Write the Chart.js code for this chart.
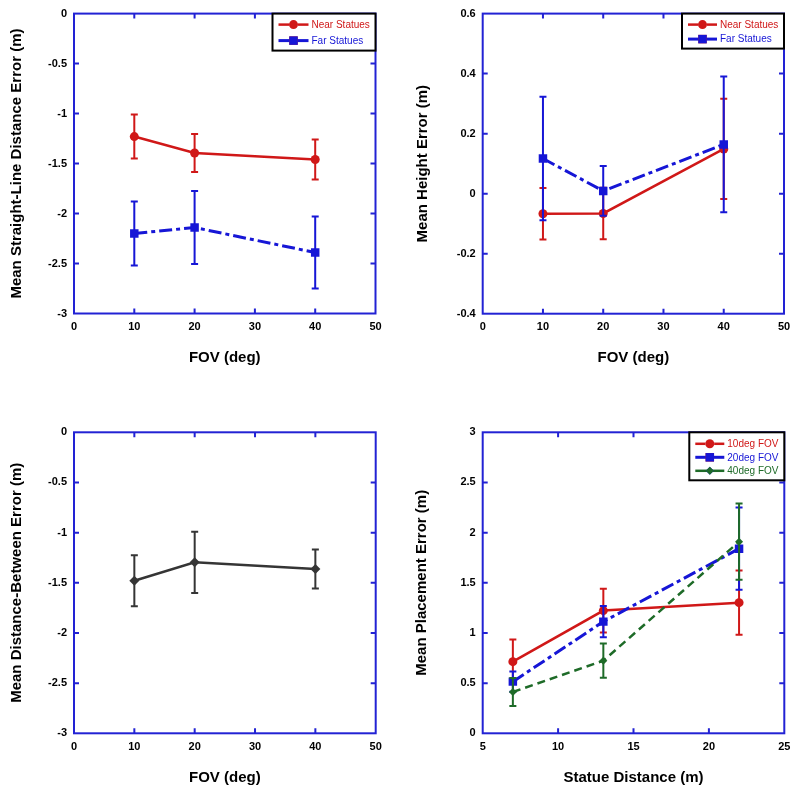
<!DOCTYPE html>
<html>
<head>
<meta charset="utf-8">
<script src="https://cdn.jsdelivr.net/npm/chart.js@4/dist/chart.umd.min.js"></script>
<style>
  html, body { margin: 0; padding: 0; background: #ffffff; }
  #wrap { position: relative; width: 800px; height: 798px; }
  canvas { position: absolute; }
</style>
</head>
<body>
<div id="wrap">
  <canvas id="c1" width="400" height="400" style="left:0px;top:0px"></canvas>
  <canvas id="c2" width="400" height="400" style="left:400px;top:0px"></canvas>
  <canvas id="c3" width="400" height="398" style="left:0px;top:400px"></canvas>
  <canvas id="c4" width="400" height="398" style="left:400px;top:400px"></canvas>
</div>
<script>
// ---------------- DATA ----------------
const fovLevels = [10, 20, 40];
const statueDistances = [7, 13, 22];

const straightNearMean = [-1.23, -1.395, -1.46];
const straightNearErr  = [0.22, 0.19, 0.20];
const straightFarMean  = [-2.20, -2.14, -2.39];
const straightFarErr   = [0.32, 0.365, 0.36];

const heightNearMean = [-0.067, -0.066, 0.149];
const heightNearErr  = [0.086, 0.086, 0.167];
const heightFarMean  = [0.117, 0.009, 0.164];
const heightFarErr   = [0.206, 0.083, 0.226];

const betweenMean = [-1.48, -1.296, -1.362];
const betweenErr  = [0.254, 0.305, 0.195];

const place10Mean = [0.714, 1.223, 1.302];
const place10Err  = [0.22, 0.218, 0.32];
const place20Mean = [0.515, 1.113, 1.84];
const place20Err  = [0.10, 0.155, 0.41];
const place40Mean = [0.412, 0.724, 1.91];
const place40Err  = [0.14, 0.17, 0.38];

const fovAxisTicks = { min: 0, max: 50, step: 10 };
const distAxisTicks = { min: 5, max: 25, step: 5 };
const straightYTicks = { min: -3, max: 0, step: 0.5 };
const heightYTicks = { min: -0.4, max: 0.6, step: 0.2 };
const betweenYTicks = { min: -3, max: 0, step: 0.5 };
const placeYTicks = { min: 0, max: 3, step: 0.5 };

const seriesNames = ['Near Statues', 'Far Statues'];
const fovSeriesNames = ['10deg FOV', '20deg FOV', '40deg FOV'];

// ---------------- STYLES ----------------
const RED = '#d01818';
const BLUE = '#1616d6';
const GREEN = '#1e6b28';
const GRAY = '#353535';
const AXIS = '#2222d4';
const FONT = 'Arial, "Liberation Sans", Helvetica, sans-serif';

const styleNear = { color: RED, width: 2.5, dash: [], point: 'circle', radius: 4.5 };
const styleFar = { color: BLUE, width: 3, dash: [13, 4, 4, 4], point: 'rect', radius: 6 };
const styleGreen = { color: GREEN, width: 2.5, dash: [8, 5], point: 'rectRot', radius: 4 };
const styleGray = { color: GRAY, width: 2.5, dash: [], point: 'rectRot', radius: 5 };

function fmtTick(v) {
  const n = Math.round(v * 100) / 100;
  return (Object.is(n, -0) ? 0 : n).toString();
}

function makeDataset(label, xs, ys, errs, st, order) {
  return {
    label: label,
    data: xs.map((x, i) => ({ x: x, y: ys[i] })),
    errors: errs,
    borderColor: st.color,
    backgroundColor: st.color,
    borderWidth: st.width,
    borderDash: st.dash,
    pointStyle: st.point,
    pointRadius: st.radius,
    pointBorderWidth: 0,
    pointBackgroundColor: st.color,
    pointBorderColor: st.color,
    tension: 0,
    fill: false,
    order: order,
    legendStyle: st
  };
}

// error bars drawn through the library's scales
const errorBarPlugin = {
  id: 'errorBars',
  beforeDatasetDraw(chart, args) {
    const ds = chart.data.datasets[args.index];
    if (!ds.errors) return;
    const ctx = chart.ctx;
    const xs = chart.scales.x, ys = chart.scales.y;
    ctx.save();
    ctx.strokeStyle = ds.borderColor;
    ctx.lineWidth = 2;
    ctx.setLineDash([]);
    ds.data.forEach((p, i) => {
      const e = ds.errors[i];
      const px = xs.getPixelForValue(p.x);
      const pTop = ys.getPixelForValue(p.y + e);
      const pBot = ys.getPixelForValue(p.y - e);
      ctx.beginPath();
      ctx.moveTo(px, pTop); ctx.lineTo(px, pBot);
      ctx.moveTo(px - 3.5, pTop); ctx.lineTo(px + 3.5, pTop);
      ctx.moveTo(px - 3.5, pBot); ctx.lineTo(px + 3.5, pBot);
      ctx.stroke();
    });
    ctx.restore();
  }
};

// blue frame with inward tick marks
const framePlugin = {
  id: 'frame',
  afterDatasetsDraw(chart) {
    const ctx = chart.ctx;
    const a = chart.chartArea;
    const xs = chart.scales.x, ys = chart.scales.y;
    ctx.save();
    ctx.strokeStyle = AXIS;
    ctx.lineWidth = 2;
    ctx.setLineDash([]);
    ctx.strokeRect(a.left, a.top, a.right - a.left, a.bottom - a.top);
    const L = 5;
    ctx.beginPath();
    xs.ticks.forEach(t => {
      const px = xs.getPixelForValue(t.value);
      if (Math.abs(px - a.left) < 1 || Math.abs(px - a.right) < 1) return;
      ctx.moveTo(px, a.bottom); ctx.lineTo(px, a.bottom - L);
      ctx.moveTo(px, a.top); ctx.lineTo(px, a.top + L);
    });
    ys.ticks.forEach(t => {
      const py = ys.getPixelForValue(t.value);
      if (Math.abs(py - a.top) < 1 || Math.abs(py - a.bottom) < 1) return;
      ctx.moveTo(a.left, py); ctx.lineTo(a.left + L, py);
      ctx.moveTo(a.right, py); ctx.lineTo(a.right - L, py);
    });
    ctx.stroke();
    ctx.restore();
  }
};

// boxed legend inside the top-right corner of the plot
const boxLegendPlugin = {
  id: 'boxLegend',
  afterDraw(chart, args, opts) {
    if (!opts || !opts.show) return;
    const ctx = chart.ctx;
    const a = chart.chartArea;
    const w = opts.width, h = opts.height;
    const x0 = a.right - w, y0 = a.top;
    ctx.save();
    ctx.fillStyle = '#ffffff';
    ctx.fillRect(x0, y0, w, h);
    ctx.strokeStyle = '#000000';
    ctx.lineWidth = 2;
    ctx.strokeRect(x0, y0, w, h);
    const dsets = chart.data.datasets;
    dsets.forEach((ds, i) => {
      const st = ds.legendStyle;
      const y = y0 + opts.firstRow + i * opts.rowGap;
      const lx1 = x0 + opts.lineStart, lx2 = lx1 + opts.lineLen;
      ctx.strokeStyle = st.color;
      ctx.lineWidth = st.width;
      ctx.setLineDash([]);
      ctx.beginPath(); ctx.moveTo(lx1, y); ctx.lineTo(lx2, y); ctx.stroke();
      Chart.helpers.drawPoint(ctx, {
        pointStyle: st.point, radius: st.radius, borderWidth: 0, rotation: 0
      }, (lx1 + lx2) / 2, y);
      ctx.fillStyle = st.color;
      ctx.fill();
      ctx.fillStyle = st.color;
      ctx.font = opts.fontSize + 'px ' + FONT;
      ctx.textAlign = 'left';
      ctx.textBaseline = 'middle';
      ctx.fillText(ds.label, lx2 + 3, y + 0.5);
    });
    ctx.restore();
  }
};

function makeChart(id, cfg) {
  const canvas = document.getElementById(id);
  const W = canvas.width, H = canvas.height;
  return new Chart(canvas, {
    type: 'line',
    data: { datasets: cfg.datasets },
    plugins: [errorBarPlugin, framePlugin, boxLegendPlugin],
    options: {
      responsive: false,
      animation: false,
      devicePixelRatio: 1,
      layout: { padding: { left: 0, top: cfg.area.top, right: W - cfg.area.right, bottom: 0 } },
      plugins: {
        legend: { display: false },
        tooltip: { enabled: false },
        boxLegend: cfg.legend
      },
      scales: {
        x: {
          type: 'linear',
          min: cfg.xTicks.min, max: cfg.xTicks.max,
          grid: { display: false, drawTicks: false },
          border: { display: false },
          ticks: {
            stepSize: cfg.xTicks.step, padding: 7, color: '#000',
            font: { family: FONT, size: 11, weight: 'bold' },
            callback: fmtTick
          },
          title: {
            display: true, text: cfg.xTitle, color: '#000',
            font: { family: FONT, size: 15, weight: 'bold' },
            padding: { top: 0, bottom: cfg.xTitlePad }
          },
          afterFit(scale) { scale.height = H - cfg.area.bottom; }
        },
        y: {
          type: 'linear',
          min: cfg.yTicks.min, max: cfg.yTicks.max,
          grid: { display: false, drawTicks: false },
          border: { display: false },
          ticks: {
            stepSize: cfg.yTicks.step, padding: 7, color: '#000',
            font: { family: FONT, size: 11, weight: 'bold' },
            callback: fmtTick
          },
          title: {
            display: true, text: cfg.yTitle, color: '#000',
            font: { family: FONT, size: 15, weight: 'bold' },
            padding: { top: cfg.yTitlePad, bottom: 0 }
          },
          afterFit(scale) { scale.width = cfg.area.left; }
        }
      }
    }
  });
}

// Chart 1: straight-line distance error
makeChart('c1', {
  area: { left: 74, right: 375.5, top: 13, bottom: 313.5 },
  xTicks: fovAxisTicks, yTicks: straightYTicks,
  xTitle: 'FOV (deg)', yTitle: 'Mean Straight-Line Distance Error (m)',
  xTitlePad: 33.5, yTitlePad: 8.3,
  datasets: [
    makeDataset(seriesNames[0], fovLevels, straightNearMean, straightNearErr, styleNear, 2),
    makeDataset(seriesNames[1], fovLevels, straightFarMean, straightFarErr, styleFar, 1)
  ],
  legend: { show: true, width: 103, height: 37, firstRow: 11, rowGap: 16, lineStart: 6, lineLen: 30, fontSize: 10 }
});

// Chart 2: height error
makeChart('c2', {
  area: { left: 82.7, right: 384, top: 13, bottom: 313.7 },
  xTicks: fovAxisTicks, yTicks: heightYTicks,
  xTitle: 'FOV (deg)', yTitle: 'Mean Height Error (m)',
  xTitlePad: 33.5, yTitlePad: 14.3,
  datasets: [
    makeDataset(seriesNames[0], fovLevels, heightNearMean, heightNearErr, styleNear, 2),
    makeDataset(seriesNames[1], fovLevels, heightFarMean, heightFarErr, styleFar, 1)
  ],
  legend: { show: true, width: 102, height: 35, firstRow: 11, rowGap: 14.5, lineStart: 6, lineLen: 29, fontSize: 10 }
});

// Chart 3: distance-between error
makeChart('c3', {
  area: { left: 74, right: 375.7, top: 32.3, bottom: 333.3 },
  xTicks: fovAxisTicks, yTicks: betweenYTicks,
  xTitle: 'FOV (deg)', yTitle: 'Mean Distance-Between Error (m)',
  xTitlePad: 11.3, yTitlePad: 8.3,
  datasets: [
    makeDataset('Distance-Between', fovLevels, betweenMean, betweenErr, styleGray, 1)
  ],
  legend: { show: false }
});

// Chart 4: placement error
makeChart('c4', {
  area: { left: 82.7, right: 384.3, top: 32.3, bottom: 333.3 },
  xTicks: distAxisTicks, yTicks: placeYTicks,
  xTitle: 'Statue Distance (m)', yTitle: 'Mean Placement Error (m)',
  xTitlePad: 11.3, yTitlePad: 12.7,
  datasets: [
    makeDataset(fovSeriesNames[0], statueDistances, place10Mean, place10Err, styleNear, 3),
    makeDataset(fovSeriesNames[1], statueDistances, place20Mean, place20Err, styleFar, 2),
    makeDataset(fovSeriesNames[2], statueDistances, place40Mean, place40Err, styleGreen, 1)
  ],
  legend: { show: true, width: 95, height: 48, firstRow: 11.5, rowGap: 13.5, lineStart: 6, lineLen: 29, fontSize: 10 }
});
</script>
</body>
</html>
